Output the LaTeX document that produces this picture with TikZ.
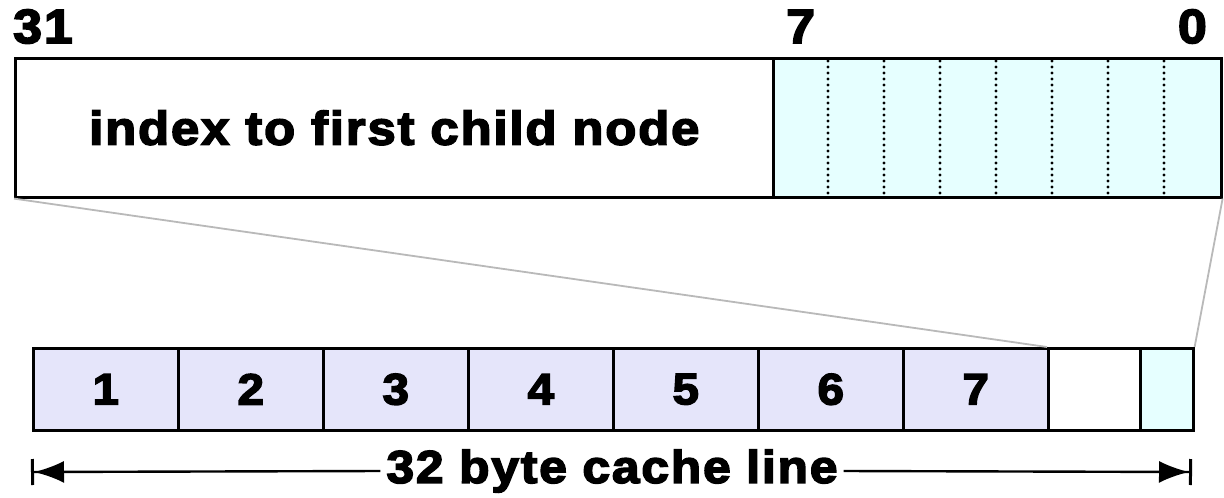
\documentclass[tikz,border=0pt]{standalone}
\usepackage{fontspec}
\usetikzlibrary{arrows.meta,calc}
\newfontfamily\blk{Liberation Sans}[BoldFeatures={FakeBold=3.5,FakeStretch=1.08,LetterSpace=4}]
\definecolor{lav}{RGB}{229,229,250}
\definecolor{lcyan}{RGB}{230,255,255}
\definecolor{guide}{RGB}{185,185,185}
\tikzset{
  box/.style={draw=black, line width=2.6pt, inner sep=0pt, anchor=north west},
  cell/.style={box, minimum height=82pt, font=\blk\bfseries\fontsize{44}{46}\selectfont},
  bitlbl/.style={inner sep=0pt, font=\blk\bfseries\fontsize{48}{50}\selectfont},
  sep/.style={line width=3.2pt, dash pattern=on 0pt off 6pt, line cap=round},
  guideline/.style={guide, line width=1.8pt},
  dim/.style={line width=2.4pt, -{Latex[length=30pt,width=22pt]Bar[width=26pt,line width=3pt]}},
}
\begin{document}
\begin{tikzpicture}[x=1pt,y=-1pt]
\useasboundingbox (0,0) rectangle (1224,498);
% top word
\node[box, fill=white, minimum width=758pt, minimum height=139pt,
      font=\blk\bfseries\fontsize{47}{49}\selectfont] (idx) at (14,57) {index to first child node};
\node[box, fill=lcyan, minimum width=448pt, minimum height=139pt] (bits) at (772,57) {};
\foreach \i in {1,...,7}
  \draw[sep] ([xshift=\i*56pt,yshift=-4pt]bits.north west) -- ([xshift=\i*56pt,yshift=1pt]bits.south west);
% bit labels
\node[bitlbl, anchor=base west] (b31) at (13,43) {31};
\node[bitlbl, anchor=base west] (b7) at (786,43) {7};
\node[bitlbl, anchor=base east] (b0) at (1207,43) {0};
% cache line cells
\foreach \i in {1,...,7}
  \node[cell, fill=lav, minimum width=145pt] (c\i) at ({32+(\i-1)*145},347) {\i};
\node[box, fill=white, minimum width=92pt, minimum height=82pt] (c8) at (1047,347) {};
\node[box, fill=lcyan, minimum width=53pt, minimum height=82pt] (c9) at (1139,347) {};
% guide lines
\draw[guideline] (idx.south west) -- (c8.north west);
\draw[guideline] (bits.south east) -- (c9.north east);
% dimension
\coordinate (L) at (31,472);
\coordinate (R) at (1192,472);
\node[inner ysep=0pt, inner xsep=6pt, font=\blk\bfseries\fontsize{46}{48}\selectfont] (len) at (612,471) {32 byte cache line};
\draw[dim] (len.west) -- (L);
\draw[dim] (len.east) -- (R);
\end{tikzpicture}
\end{document}
